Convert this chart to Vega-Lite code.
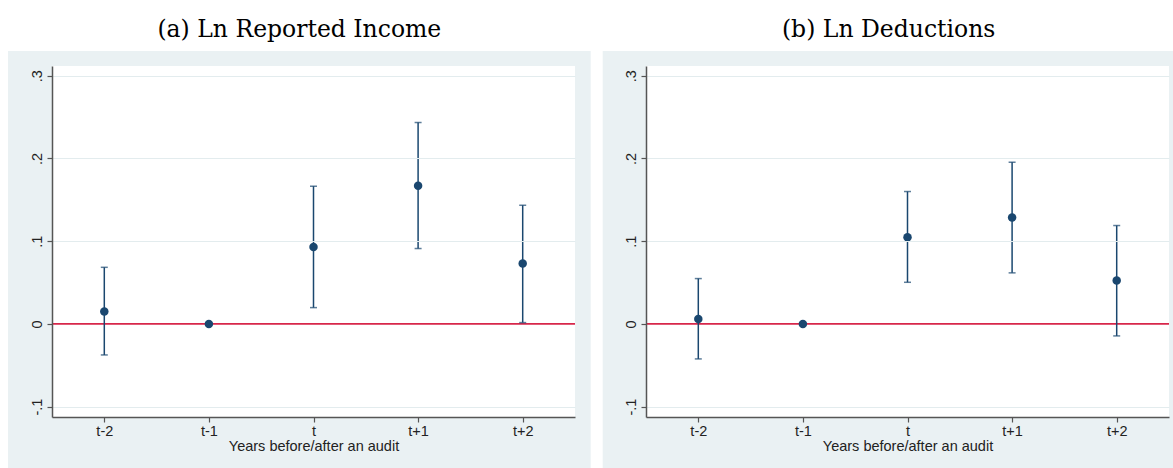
{
  "$schema": "https://vega.github.io/schema/vega-lite/v6.json",
  "background": "white",
  "padding": {"left": 7, "top": 17, "right": 0, "bottom": 0},
  "spacing": 11,
  "config": {
    "view": {"stroke": null},
    "font": "Liberation Sans",
    "title": {"font": "DejaVu Serif", "fontSize": 23.5, "fontWeight": "normal", "color": "#000000", "anchor": "middle", "frame": "bounds", "offset": 10},
    "axis": {
      "domainColor": "#555555",
      "domainWidth": 1.5,
      "tickColor": "#555555",
      "tickWidth": 1.2,
      "tickSize": 5,
      "labelColor": "#222222",
      "titleColor": "#222222",
      "labelFont": "Liberation Sans",
      "titleFont": "Liberation Sans"
    }
  },
  "datasets": {
    "income": [
      {"k": 0, "period": "t-2", "b": 0.015, "lo": -0.0375, "hi": 0.0684},
      {"k": 1, "period": "t-1", "b": 0.0, "lo": null, "hi": null},
      {"k": 2, "period": "t", "b": 0.093, "lo": 0.0197, "hi": 0.1664},
      {"k": 3, "period": "t+1", "b": 0.167, "lo": 0.0911, "hi": 0.2434},
      {"k": 4, "period": "t+2", "b": 0.073, "lo": 0.0016, "hi": 0.1434}
    ],
    "deductions": [
      {"k": 0, "period": "t-2", "b": 0.006, "lo": -0.0423, "hi": 0.0548},
      {"k": 1, "period": "t-1", "b": 0.0, "lo": null, "hi": null},
      {"k": 2, "period": "t", "b": 0.1047, "lo": 0.0503, "hi": 0.16},
      {"k": 3, "period": "t+1", "b": 0.1285, "lo": 0.0617, "hi": 0.1954},
      {"k": 4, "period": "t+2", "b": 0.0524, "lo": -0.0145, "hi": 0.1189}
    ],
    "one": [{}]
  },
  "hconcat": [
    {
      "title": "(a) Ln Reported Income",
      "width": 523,
      "height": 351,
      "layer": [
        {
          "data": {"name": "one"},
          "mark": {"type": "rect", "fill": "#EAF1F3"},
          "encoding": {
            "x": {"datum": -0.921, "type": "quantitative"},
            "x2": {"datum": 4.65},
            "y": {"datum": 0.3298, "type": "quantitative"},
            "y2": {"datum": -0.1742}
          }
        },
        {
          "data": {"name": "one"},
          "mark": {"type": "rect", "fill": "#FFFFFF"},
          "encoding": {
            "x": {"datum": -0.5, "type": "quantitative"},
            "x2": {"datum": 4.5},
            "y": {"datum": 0.3117, "type": "quantitative"},
            "y2": {"datum": -0.1125}
          }
        },
        {
          "data": {"name": "one"},
          "mark": {"type": "rule", "color": "#D7264A", "strokeWidth": 1.6},
          "encoding": {"y": {"datum": 0, "type": "quantitative"}}
        },
        {
          "data": {"name": "income"},
          "mark": {"type": "rule", "color": "#1A476F", "strokeWidth": 1.5},
          "encoding": {
            "x": {"field": "k", "type": "quantitative"},
            "y": {"field": "lo", "type": "quantitative"},
            "y2": {"field": "hi"}
          }
        },
        {
          "data": {"name": "income"},
          "mark": {"type": "tick", "orient": "horizontal", "color": "#1A476F", "size": 7, "thickness": 1.5},
          "encoding": {
            "x": {"field": "k", "type": "quantitative"},
            "y": {"field": "lo", "type": "quantitative"}
          }
        },
        {
          "data": {"name": "income"},
          "mark": {"type": "tick", "orient": "horizontal", "color": "#1A476F", "size": 7, "thickness": 1.5},
          "encoding": {
            "x": {"field": "k", "type": "quantitative"},
            "y": {"field": "hi", "type": "quantitative"}
          }
        },
        {
          "data": {"name": "income"},
          "mark": {"type": "point", "filled": true, "color": "#1A476F", "opacity": 1, "size": 72},
          "encoding": {
            "x": {
              "field": "k",
              "type": "quantitative",
              "scale": {"domain": [-0.5, 4.5], "nice": false, "zero": false},
              "axis": {
                "zindex": 1,
                "title": "Years before/after an audit",
                "values": [0, 1, 2, 3, 4],
                "labelExpr": "['t-2','t-1','t','t+1','t+2'][datum.value]",
                "grid": false,
                "labelFontSize": 14.5,
                "labelPadding": 2,
                "titleFontSize": 14.5,
                "titleFontWeight": "normal",
                "titlePadding": 2
              }
            },
            "y": {
              "field": "b",
              "type": "quantitative",
              "scale": {"domain": [-0.1125, 0.3117], "nice": false, "zero": false},
              "axis": {
                "zindex": 1,
                "title": null,
                "values": [-0.1, 0, 0.1, 0.2, 0.3],
                "labelExpr": "datum.value < -0.05 ? '-.1' : datum.value < 0.05 ? '0' : datum.value < 0.15 ? '.1' : datum.value < 0.25 ? '.2' : '.3'",
                "labelAngle": 270,
                "labelFontSize": 14.5,
                "labelPadding": 3,
                "grid": true,
                "gridColor": {"condition": {"test": "datum.value > -0.05 && datum.value < 0.05", "value": "transparent"}, "value": "#E3ECEE"},
                "gridWidth": 1
              }
            }
          }
        }
      ]
    },
    {
      "title": "(b) Ln Deductions",
      "width": 523,
      "height": 351,
      "layer": [
        {
          "data": {"name": "one"},
          "mark": {"type": "rect", "fill": "#EAF1F3"},
          "encoding": {
            "x": {"datum": -0.914, "type": "quantitative"},
            "x2": {"datum": 4.554},
            "y": {"datum": 0.3298, "type": "quantitative"},
            "y2": {"datum": -0.1742}
          }
        },
        {
          "data": {"name": "one"},
          "mark": {"type": "rect", "fill": "#FFFFFF"},
          "encoding": {
            "x": {"datum": -0.5, "type": "quantitative"},
            "x2": {"datum": 4.5},
            "y": {"datum": 0.3117, "type": "quantitative"},
            "y2": {"datum": -0.1125}
          }
        },
        {
          "data": {"name": "one"},
          "mark": {"type": "rule", "color": "#D7264A", "strokeWidth": 1.6},
          "encoding": {"y": {"datum": 0, "type": "quantitative"}}
        },
        {
          "data": {"name": "deductions"},
          "mark": {"type": "rule", "color": "#1A476F", "strokeWidth": 1.5},
          "encoding": {
            "x": {"field": "k", "type": "quantitative"},
            "y": {"field": "lo", "type": "quantitative"},
            "y2": {"field": "hi"}
          }
        },
        {
          "data": {"name": "deductions"},
          "mark": {"type": "tick", "orient": "horizontal", "color": "#1A476F", "size": 7, "thickness": 1.5},
          "encoding": {
            "x": {"field": "k", "type": "quantitative"},
            "y": {"field": "lo", "type": "quantitative"}
          }
        },
        {
          "data": {"name": "deductions"},
          "mark": {"type": "tick", "orient": "horizontal", "color": "#1A476F", "size": 7, "thickness": 1.5},
          "encoding": {
            "x": {"field": "k", "type": "quantitative"},
            "y": {"field": "hi", "type": "quantitative"}
          }
        },
        {
          "data": {"name": "deductions"},
          "mark": {"type": "point", "filled": true, "color": "#1A476F", "opacity": 1, "size": 72},
          "encoding": {
            "x": {
              "field": "k",
              "type": "quantitative",
              "scale": {"domain": [-0.5, 4.5], "nice": false, "zero": false},
              "axis": {
                "zindex": 1,
                "title": "Years before/after an audit",
                "values": [0, 1, 2, 3, 4],
                "labelExpr": "['t-2','t-1','t','t+1','t+2'][datum.value]",
                "grid": false,
                "labelFontSize": 14.5,
                "labelPadding": 2,
                "titleFontSize": 14.5,
                "titleFontWeight": "normal",
                "titlePadding": 2
              }
            },
            "y": {
              "field": "b",
              "type": "quantitative",
              "scale": {"domain": [-0.1125, 0.3117], "nice": false, "zero": false},
              "axis": {
                "zindex": 1,
                "title": null,
                "values": [-0.1, 0, 0.1, 0.2, 0.3],
                "labelExpr": "datum.value < -0.05 ? '-.1' : datum.value < 0.05 ? '0' : datum.value < 0.15 ? '.1' : datum.value < 0.25 ? '.2' : '.3'",
                "labelAngle": 270,
                "labelFontSize": 14.5,
                "labelPadding": 3,
                "grid": true,
                "gridColor": {"condition": {"test": "datum.value > -0.05 && datum.value < 0.05", "value": "transparent"}, "value": "#E3ECEE"},
                "gridWidth": 1
              }
            }
          }
        }
      ]
    }
  ]
}
